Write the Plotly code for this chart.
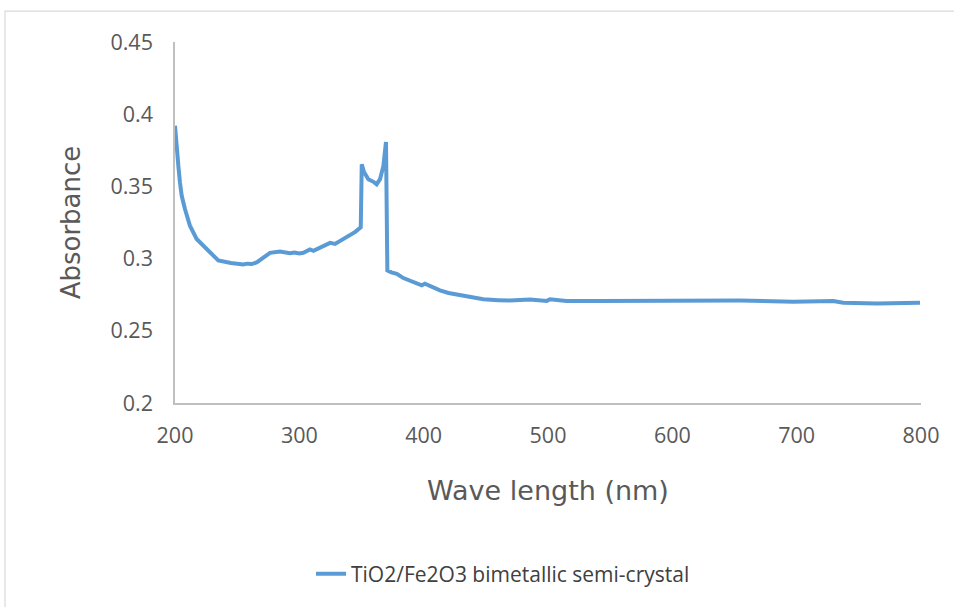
import plotly.graph_objects as go

wavelength = [200, 201.3, 202.7, 204, 205.4, 208, 212, 217.4, 222.8, 228.2,
              234.8, 245, 254.9, 258, 261.7, 266, 276.4, 284.4, 292.5, 296,
              300, 303.2, 306, 308.6, 311.3, 318, 324.7, 328.7, 335, 340.7,
              345, 349.4, 350.2, 352, 355.5, 360, 362.2, 364.9, 367.6, 369.7,
              370.8, 374, 378.4, 383.7, 390, 398.4, 401, 405.1, 413.1, 420,
              429.2, 438, 448, 460, 469.4, 485.5, 499, 501.6, 514.9, 541.8,
              568.6, 595.4, 620, 654.4, 697.3, 729.4, 737.5, 764.3, 799.2]
absorbance = [0.392, 0.3756, 0.3641, 0.3527, 0.3435, 0.3343, 0.3228, 0.3136, 0.309, 0.3045,
              0.2987, 0.2970, 0.2959, 0.2965, 0.2962, 0.2975, 0.304, 0.3049, 0.3038, 0.3042,
              0.3035, 0.304, 0.305, 0.3063, 0.3054, 0.3085, 0.3109, 0.3102, 0.3135, 0.3159,
              0.3185, 0.3217, 0.3653, 0.3600, 0.355, 0.3530, 0.3515, 0.355, 0.3641, 0.3807,
              0.2918, 0.2905, 0.2895, 0.2865, 0.2845, 0.2815, 0.2826, 0.2808, 0.278, 0.2762,
              0.2746, 0.2730, 0.2718, 0.2712, 0.2709, 0.2716, 0.2707, 0.2718, 0.2707, 0.2707,
              0.2709, 0.2707, 0.2706, 0.2709, 0.2702, 0.2707, 0.2694, 0.2689, 0.2694]
series_name = "TiO2/Fe2O3 bimetallic semi-crystal"
x_ticks = [200, 300, 400, 500, 600, 700, 800]
y_ticks = [0.2, 0.25, 0.3, 0.35, 0.4, 0.45]
y_tick_labels = ["0.2", "0.25", "0.3", "0.35", "0.4", "0.45"]

W, H = 954, 607
L, R, T, B = 175, 33, 42, 202
pw, ph = W - L - R, H - T - B

fig = go.Figure()
fig.add_trace(go.Scatter(x=wavelength, y=absorbance, mode="lines", name=series_name,
                         line=dict(color="#5B9BD5", width=4), showlegend=True))

tick_font = dict(family="Open Sans", size=21.5, color="#595959")

fig.update_layout(
    width=W, height=H,
    margin=dict(l=L, r=R, t=T, b=B),
    paper_bgcolor="white", plot_bgcolor="white",
    showlegend=True,
    legend=dict(orientation="h", x=(503 - L) / pw, xanchor="center", y=(405 - 577) / ph, yanchor="middle",
                font=dict(family="Open Sans", size=21, color="#404040"),
                itemwidth=30, bgcolor="rgba(0,0,0,0)"),
    xaxis=dict(range=[200, 800], tickvals=x_ticks, ticktext=[str(v) for v in x_ticks],
               showgrid=False, zeroline=False, showline=True, linecolor="#bfbfbf", linewidth=1.5,
               ticks="", tickfont=tick_font, ticklabelstandoff=12,
               title=dict(text="Wave length (nm)",
                          font=dict(family="DejaVu Sans", size=27, color="#595959"), standoff=34)),
    yaxis=dict(range=[0.2, 0.45], tickvals=y_ticks, ticktext=y_tick_labels,
               showgrid=False, zeroline=False, showline=True, linecolor="#bfbfbf", linewidth=1.5,
               ticks="", tickfont=tick_font, ticklabelstandoff=16,
               title=dict(text="Absorbance",
                          font=dict(family="DejaVu Sans", size=26, color="#595959"), standoff=22)),
    shapes=[dict(type="rect", xref="paper", yref="paper",
                 x0=(5 - L) / pw, x1=(W + 20 - L) / pw,
                 y0=(H - B - 11) / ph, y1=(H - B - (H + 20)) / ph,
                 line=dict(color="#d9d9d9", width=1.2), fillcolor="rgba(0,0,0,0)", layer="below")],
)

fig.write_html("out.html")
